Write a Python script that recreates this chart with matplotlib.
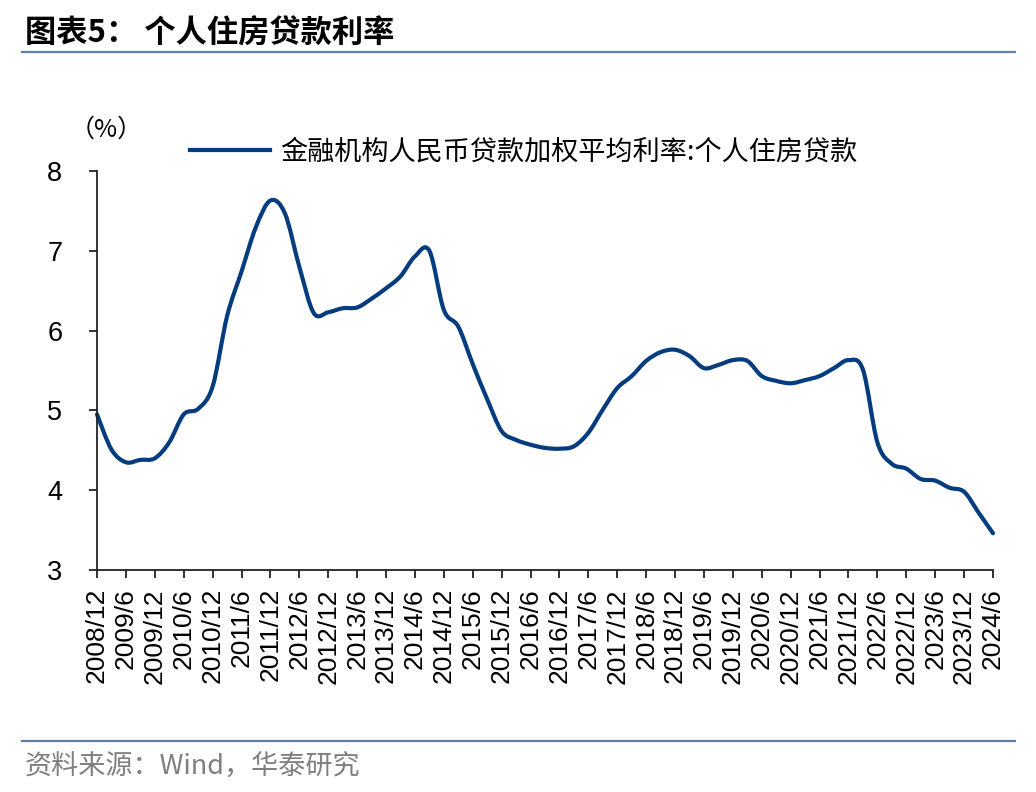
import matplotlib
matplotlib.use("Agg")
import matplotlib.pyplot as plt
from matplotlib.path import Path
from matplotlib.patches import PathPatch
from matplotlib.lines import Line2D
import numpy as np

# ---------------- data ----------------
tick_labels = ["2008/12", "2009/6", "2009/12", "2010/6", "2010/12", "2011/6", "2011/12",
               "2012/6", "2012/12", "2013/6", "2013/12", "2014/6", "2014/12", "2015/6",
               "2015/12", "2016/6", "2016/12", "2017/6", "2017/12", "2018/6", "2018/12",
               "2019/6", "2019/12", "2020/6", "2020/12", "2021/6", "2021/12", "2022/6",
               "2022/12", "2023/6", "2023/12", "2024/6"]

# quarterly values, 2008Q4 .. 2024Q2
rate = [4.95, 4.51, 4.35, 4.38, 4.40, 4.60, 4.95, 5.02, 5.30, 6.18,
        6.74, 7.30, 7.63, 7.47, 6.80, 6.22, 6.23, 6.28, 6.29, 6.40,
        6.53, 6.68, 6.93, 7.00, 6.26, 6.05, 5.58, 5.14, 4.74, 4.63,
        4.57, 4.53, 4.52, 4.55, 4.72, 5.01, 5.28, 5.43, 5.62, 5.73,
        5.76, 5.68, 5.53, 5.57, 5.63, 5.62, 5.43, 5.37, 5.34, 5.38,
        5.43, 5.53, 5.63, 5.51, 4.60, 4.33, 4.27, 4.14, 4.12, 4.03,
        3.98, 3.72, 3.46]

series_name = "金融机构人民币贷款加权平均利率:个人住房贷款"
title = "图表5： 个人住房贷款利率"
source = "资料来源：Wind，华泰研究"

# ---------------- style ----------------
LINE_COLOR = "#053C7E"
RULE_COLOR = "#5D80AC"
CJK = ["Noto Sans CJK SC", "DejaVu Sans"]
LAT = ["Liberation Sans", "DejaVu Sans"]

fig = plt.figure(figsize=(10.36, 7.92), dpi=100)
ax = fig.add_axes([97 / 1036, 1 - 570 / 792, 896 / 1036, 399 / 792])

x = np.arange(len(rate), dtype=float)
y = np.array(rate, dtype=float)

# smooth curve (Catmull-Rom -> cubic Bezier) through the data points
verts = [(x[0], y[0])]
codes = [Path.MOVETO]
n = len(x)
for i in range(n - 1):
    p0 = np.array([x[max(i - 1, 0)], y[max(i - 1, 0)]])
    p1 = np.array([x[i], y[i]])
    p2 = np.array([x[i + 1], y[i + 1]])
    p3 = np.array([x[min(i + 2, n - 1)], y[min(i + 2, n - 1)]])
    c1 = p1 + (p2 - p0) / 6.0
    c2 = p2 - (p3 - p1) / 6.0
    verts += [tuple(c1), tuple(c2), tuple(p2)]
    codes += [Path.CURVE4] * 3
patch = PathPatch(Path(verts, codes), facecolor="none", edgecolor=LINE_COLOR,
                  lw=3.0, capstyle="round", joinstyle="round", clip_on=False)
ax.add_patch(patch)

ax.set_xlim(0, len(rate) - 1)
ax.set_ylim(3, 8)
ax.set_yticks([3, 4, 5, 6, 7, 8])
ax.set_xticks(np.arange(0, len(rate), 2))
ax.set_xticklabels(tick_labels, rotation=90, fontfamily=LAT, fontsize=19)
for lab in ax.get_yticklabels():
    lab.set_fontfamily(LAT)
    lab.set_fontsize(19.5)

for s in ["top", "right"]:
    ax.spines[s].set_visible(False)
for s in ["left", "bottom"]:
    ax.spines[s].set_linewidth(1.3)
    ax.spines[s].set_color("#222222")
ax.tick_params(axis="both", direction="out", length=6, width=1.3, color="#222222")
ax.tick_params(axis="y", pad=19)
ax.tick_params(axis="x", pad=7)

# legend
ax.legend([Line2D([0], [0], color=LINE_COLOR, lw=3)], [series_name],
          loc="center left", bbox_to_anchor=(166 / 1036, 1 - 152 / 792),
          bbox_transform=fig.transFigure,
          frameon=False, handlelength=2.95, handletextpad=0.35,
          prop={"family": CJK, "size": 19.5})

# unit label
fig.text(70 / 1036, 1 - 130 / 792, "（%）", fontfamily=CJK, fontsize=18,
         ha="left", va="center")

# title and rules
fig.text(25 / 1036, 1 - 34 / 792, title, fontfamily=CJK, fontweight="bold",
         fontsize=22.5, ha="left", va="center")
fig.add_artist(Line2D([22 / 1036, 1015 / 1036], [1 - 52 / 792, 1 - 52 / 792],
                      color=RULE_COLOR, lw=1.6))
fig.add_artist(Line2D([22 / 1036, 1015 / 1036], [1 - 741 / 792, 1 - 741 / 792],
                      color=RULE_COLOR, lw=1.6))
fig.text(25 / 1036, 1 - 767 / 792, source, fontfamily=CJK, fontsize=19.5,
         color="#7F7F7F", ha="left", va="center")

fig.savefig("out.png", dpi=100)
